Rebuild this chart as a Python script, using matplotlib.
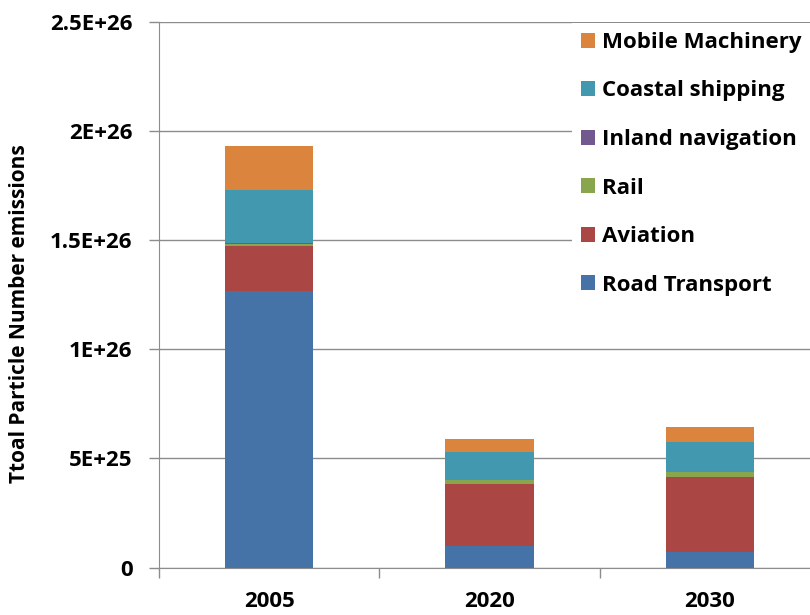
"""
    particle_number.py

    Stacked bars of total particle number emissions per transport sector
"""

from matplotlib import pyplot as plt
from matplotlib.patches import Patch
import numpy as np

plt.rcParams['font.family'] = ['Open Sans', 'DejaVu Sans']
plt.rcParams['font.weight'] = 'bold'

years = ['2005', '2020', '2030']
sectors = ['Road Transport', 'Aviation', 'Rail', 'Inland navigation',
           'Coastal shipping', 'Mobile Machinery']

# values in 1E+26 particles
road = [1.266, 0.099, 0.071]
aviation = [0.206, 0.284, 0.344]
rail = [0.012, 0.018, 0.023]
inland = [0.003, 0.001, 0.001]
coastal = [0.243, 0.128, 0.138]
mobile = [0.202, 0.060, 0.069]

colors = ['#4572A7', '#AA4643', '#89A54E', '#71588F', '#4198AF', '#DB843D']

yticks = [0, 0.5, 1.0, 1.5, 2.0, 2.5]
yticklabels = ['0', '5E+25', '1E+26', '1.5E+26', '2E+26', '2.5E+26']

fig = plt.figure(figsize = (8.1, 6.15), dpi = 100)
ax = fig.add_axes([159/810., 1 - 567.5/615., 661/810., 545.5/615.])

x = np.arange(len(years))
bottom = np.zeros(len(years))
for vals, c in zip([road, aviation, rail, inland, coastal, mobile], colors):
    ax.bar(x, vals, 0.4, bottom = bottom, color = c, zorder = 2)
    bottom += np.array(vals)

ax.set_xlim(-0.5, 2.5)
ax.set_ylim(0, 2.5)
ax.set_yticks(yticks)
ax.set_yticklabels(yticklabels)
ax.set_xticks(x)
ax.set_xticklabels(years)
ax.set_xticks([-0.5, 0.5, 1.5, 2.5], minor = True)

ax.tick_params(axis = 'y', length = 7, width = 1, color = '#8c8c8c', pad = 12,
               labelsize = 16)
ax.tick_params(axis = 'x', which = 'major', length = 0, pad = 17, labelsize = 16)
ax.tick_params(axis = 'x', which = 'minor', length = 7, width = 1, color = '#8c8c8c')

ax.yaxis.grid(True, color = '#8c8c8c', linewidth = 1, zorder = 0)
ax.set_axisbelow(True)
for s in ['top', 'right']:
    ax.spines[s].set_visible(False)
for s in ['left', 'bottom']:
    ax.spines[s].set_color('#8c8c8c')

ax.set_ylabel('Ttoal Particle Number emissions', fontsize = 15, fontweight = 'bold')
ax.yaxis.set_label_coords((30 - 159)/661., 0.465)

handles = [Patch(facecolor = c, edgecolor = 'none') for c in colors]
leg = fig.legend(handles[::-1], sectors[::-1], loc = 'upper left',
                 bbox_to_anchor = (572/810., 1 - 23/615.),
                 frameon = True, facecolor = 'white', edgecolor = 'none', framealpha = 1,
                 fontsize = 16, handlelength = 0.65, handleheight = 0.65,
                 handletextpad = 0.3, labelspacing = 1.24, borderpad = 0.4,
                 borderaxespad = 0, fancybox = False)
for t in leg.get_texts():
    t.set_fontweight('bold')

fig.savefig('out.png', dpi = 100)
